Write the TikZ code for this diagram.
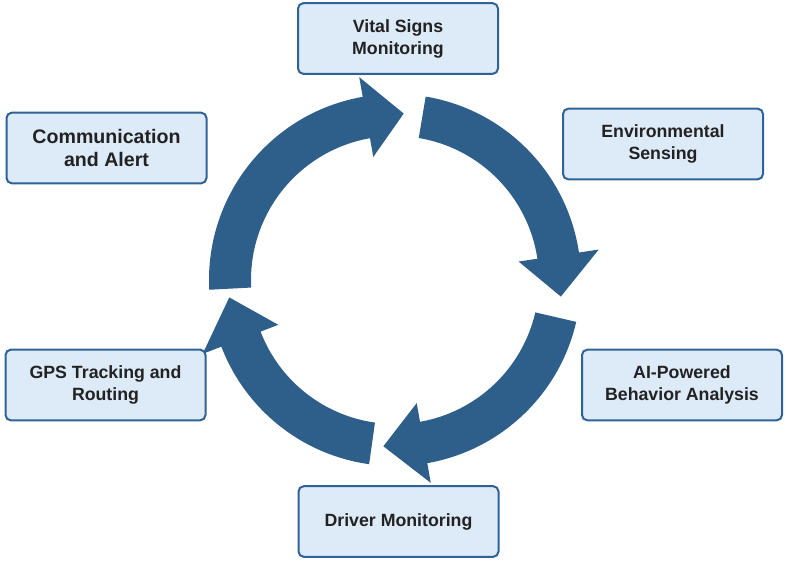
\documentclass[tikz,border=0pt]{standalone}
\usepackage{fontspec}
\setmainfont{Liberation Sans}
\usepackage{tikz}
\usetikzlibrary{calc,positioning}
\definecolor{ringblue}{RGB}{46,95,138}
\definecolor{boxfill}{RGB}{221,234,248}
\definecolor{boxline}{RGB}{47,98,150}
\definecolor{txtgray}{RGB}{34,34,34}
% one curved arrow of the ring: tail angle, head base angle, tip angle
\newcommand{\ringarrow}[3]{%
  \fill[ringblue] (#1:139.5pt) arc[start angle=#1,end angle=#2,radius=139.5pt]
    -- (#2:154.5pt) -- (#3:125pt) -- (#2:93.75pt) -- (#2:108pt)
    arc[start angle=#2,end angle=#1,radius=108pt] -- cycle;}

\begin{document}
\begin{tikzpicture}[x=0.75pt,y=-0.75pt,
  stagebox/.style={draw=boxline,line width=1.5pt,fill=boxfill,rounded corners=4pt,
    minimum width=150pt,minimum height=53pt,align=center,text=txtgray,
    font=\bfseries\fontsize{13.3}{16.5}\selectfont}]
  \useasboundingbox (0,0) rectangle (786,562);
  % the cycle
  \begin{scope}[shift={(395,280)}]
    \ringarrow{183}{100}{87}
    \ringarrow{80.5}{8.5}{-5.7}
    \ringarrow{-13}{-80}{-94}
    \ringarrow{262}{201}{186}
  \end{scope}
  % stages
  \node[stagebox] (vital) at (398,38.5) {Vital Signs\\Monitoring};
  \node[stagebox] (env) at (663,144) {Environmental\\Sensing};
  \node[stagebox] (aibeh) at (682,385) {AI-Powered\\Behavior Analysis};
  \node[stagebox] (driver) at (398.5,521.5) {Driver Monitoring};
  \node[stagebox] (gps) at (105.5,385) {GPS Tracking and\\Routing};
  \node[stagebox,font=\bfseries\fontsize{14.7}{17.5}\selectfont] (comm) at (106.5,148) {Communication\\and Alert};
\end{tikzpicture}
\end{document}
